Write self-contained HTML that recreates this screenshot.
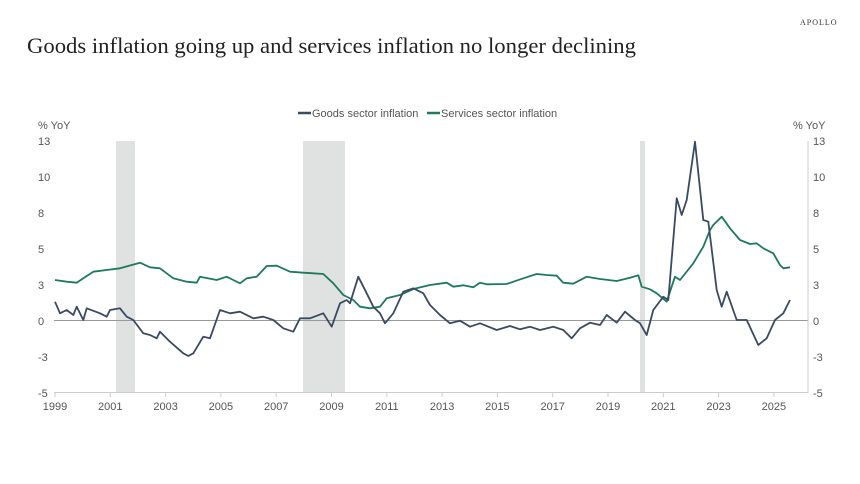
<!DOCTYPE html>
<html><head><meta charset="utf-8"><style>
html,body{margin:0;padding:0;background:#fff;}
svg{display:block;}
</style></head><body>
<svg id="s" width="860" height="484" viewBox="0 0 860 484" xmlns="http://www.w3.org/2000/svg">
<text x="27" y="53" font-family="Liberation Serif, serif" font-size="22" fill="#222" textLength="609" lengthAdjust="spacingAndGlyphs">Goods inflation going up and services inflation no longer declining</text>
<text x="800" y="25" font-family="Liberation Serif, serif" font-size="8" fill="#333" letter-spacing="1">APOLLO</text>
<rect x="116" y="141" width="19" height="252" fill="#e0e2e1"/>
<rect x="303" y="141" width="42" height="252" fill="#e0e2e1"/>
<rect x="640" y="141" width="5" height="252" fill="#e0e2e1"/>
<line x1="54" y1="320.5" x2="808" y2="320.5" stroke="#999" stroke-width="1"/>
<line x1="54" y1="392.5" x2="808" y2="392.5" stroke="#ccc" stroke-width="1"/>
<line x1="808" y1="141" x2="808" y2="393" stroke="#ccc" stroke-width="1"/>
<g id="xt" font-family="Liberation Sans, sans-serif" font-size="11" fill="#555" text-anchor="middle"></g>
<g font-family="Liberation Sans, sans-serif" font-size="11" fill="#555">
<text x="38" y="129">% YoY</text>
<text x="793" y="129">% YoY</text>
</g>
<g id="yt" font-family="Liberation Sans, sans-serif" font-size="11" fill="#555"></g>
<g font-family="Liberation Sans, sans-serif" font-size="11" fill="#555">
<line x1="298" y1="113" x2="311" y2="113" stroke="#3b4a63" stroke-width="2.5"/>
<text x="312" y="117">Goods sector inflation</text>
<line x1="427" y1="113" x2="440" y2="113" stroke="#1d7a5c" stroke-width="2.5"/>
<text x="441" y="117">Services sector inflation</text>
</g>
<polyline id="sv" fill="none" stroke="#1d7a5c" stroke-width="1.8" stroke-linejoin="round"/>
<polyline id="gd" fill="none" stroke="#3b4a63" stroke-width="1.8" stroke-linejoin="round"/>
</svg>
<script>
var NS="http://www.w3.org/2000/svg";
function el(p,t,a,txt){var e=document.createElementNS(NS,t);for(var k in a)e.setAttribute(k,a[k]);if(txt!=null)e.textContent=txt;p.appendChild(e);}
var xt=document.getElementById('xt');
for(var y=1999;y<=2025;y+=2){var x=55+(y-1999)*27.65;el(xt,'line',{x1:x,y1:393,x2:x,y2:397,stroke:'#ccc'});el(xt,'text',{x:x,y:410},y);}
var yt=document.getElementById('yt');
var labs=['13','10','8','5','3','0','-3','-5'];
for(var i=0;i<8;i++){var yy=141+i*36+4;el(yt,'text',{x:38,y:yy},labs[i]);el(yt,'text',{x:813,y:yy},labs[i]);}
function conv(a,ox,oy){return a.map(function(p){return (ox+p[0]/3).toFixed(1)+','+(oy+p[1]/3).toFixed(1);});}
var s1=[[165,540],[200,545],[230,548],[250,535],[280,515],[320,510],[360,505],[420,488],[450,502],[480,505],[520,535],[560,545],[590,548],[600,530],[650,540],[680,530],[700,540],[720,550],[740,535],[770,530],[800,498],[830,497],[870,515],[910,518],[940,520],[970,522],[1000,550],[1030,585],[1060,600],[1080,620],[1110,625],[1140,620],[1160,595],[1200,585],[1240,567],[1290,555]];
var s2=[[0,555],[50,548],[70,560],[100,556],[130,562],[150,548],[170,553],[230,552],[280,535],[320,522],[350,525],[380,527],[400,548],[430,551],[470,530],[510,537],[560,543],[600,533],[625,526],[635,560],[660,568],[680,580],[710,605],[735,530],[750,540],[790,490],[820,440],[840,390],[850,375],[875,350],[900,385],[930,420],[960,432],[980,430],[1000,445],[1030,460],[1050,495],[1060,505],[1080,502]];
var g1=[[165,605],[180,640],[200,630],[220,645],[230,620],[250,660],[260,625],[300,640],[320,650],[330,630],[360,625],[380,650],[400,660],[430,700],[450,705],[470,715],[480,695],[510,725],[550,760],[565,768],[580,760],[610,710],[630,715],[660,630],[690,640],[720,635],[760,655],[790,650],[820,660],[850,685],[880,695],[900,655],[930,655],[970,640],[995,680],[1020,610],[1040,600],[1050,610],[1075,530],[1100,580],[1120,620],[1140,640],[1155,670],[1180,640],[1210,575],[1240,565],[1270,580],[1290,615]];
var g2=[[0,620],[30,645],[60,670],[90,662],[120,680],[150,670],[200,690],[240,678],[270,688],[300,680],[330,690],[370,680],[400,690],[425,715],[450,685],[480,668],[510,675],[530,645],[560,668],[585,635],[615,660],[630,670],[650,705],[670,630],[700,590],[715,600],[740,295],[755,345],[770,300],[795,125],[820,360],[835,365],[860,570],[875,620],[890,575],[920,660],[950,660],[985,735],[1010,715],[1035,660],[1060,640],[1080,600]];
document.getElementById('sv').setAttribute('points',conv(s1,0,100).concat(conv(s2.slice(1),430,100)).join(' '));
document.getElementById('gd').setAttribute('points',conv(g1,0,100).concat(conv(g2.slice(1),430,100)).join(' '));
</script>
</body></html>
